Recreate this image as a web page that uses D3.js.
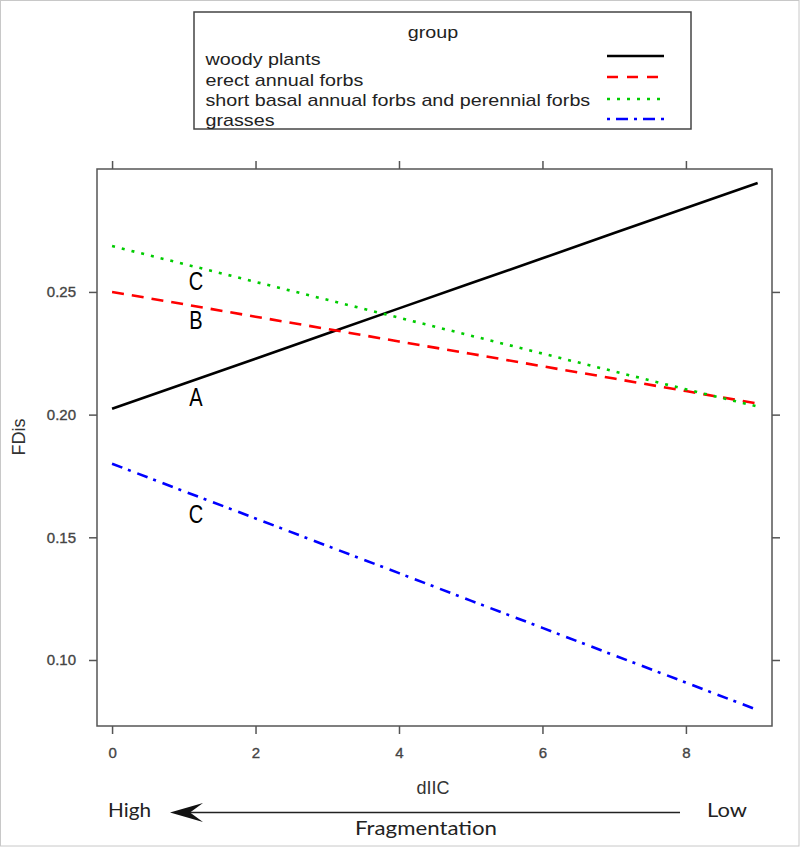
<!DOCTYPE html>
<html><head><meta charset="utf-8">
<script src="https://cdn.jsdelivr.net/npm/d3@7"></script>
<style>body{margin:0;background:#fff}svg{display:block}</style>
</head><body>
<script>
const xValues = [0,1,2,3,4,5,6,7,8,9];
const woody = [0.2024,0.2126,0.2228,0.2331,0.2433,0.2535,0.2637,0.2740,0.2842,0.2944];
const erect = [0.2500,0.2450,0.2399,0.2349,0.2298,0.2248,0.2197,0.2147,0.2096,0.2045];
const shortBasal = [0.2687,0.2614,0.2541,0.2468,0.2395,0.2322,0.2249,0.2176,0.2103,0.2033];
const grasses = [0.1800,0.1688,0.1577,0.1465,0.1354,0.1242,0.1131,0.1019,0.0908,0.0796];
const groupNames = ["woody plants","erect annual forbs","short basal annual forbs and perennial forbs","grasses"];
const groupColors = ["#000000","#ff0000","#00cc00","#0000ff"];
const groupDash = [null,"12,8","3,7","11,6,3,7"];
const legendDash = [null,"11,9","3,7","3,6,12,6"];
const xTicks = [0,2,4,6,8];
const yTicks = [0.10,0.15,0.20,0.25];
const letterLabels = [{t:"C",x:1.17,y:0.2545},{t:"B",x:1.17,y:0.2386},{t:"A",x:1.17,y:0.2072},{t:"C",x:1.17,y:0.1599}];

const W=800,H=847;
const svg=d3.select("body").append("svg").attr("width",W).attr("height",H);
svg.append("rect").attr("x",0.5).attr("y",0.5).attr("width",W-1.5).attr("height",H-1.5).attr("fill","#fff").attr("stroke","#c8c8c8");

const x=d3.scaleLinear().domain([-0.21,9.2]).range([97,772]);
const y=d3.scaleLinear().domain([0.0731,0.3001]).range([726,169]);
const axCol="#555";
const font="Liberation Sans, Arial, sans-serif";

const tl=(g)=>{g.select(".domain").remove();g.selectAll(".tick line").attr("stroke",axCol).attr("stroke-width",1.5);
  g.selectAll(".tick text").attr("fill","#444").attr("stroke","#444").attr("stroke-width",0.35).attr("font-size",15).attr("font-family",font);};
svg.append("g").attr("transform","translate(0,726)").call(d3.axisBottom(x).tickValues(xTicks).tickFormat(d3.format("d")).tickSize(8).tickPadding(13)).call(tl);
svg.append("g").attr("transform","translate(0,169)").call(d3.axisTop(x).tickValues(xTicks).tickFormat("").tickSize(8)).call(tl);
svg.append("g").attr("transform","translate(97,0)").call(d3.axisLeft(y).tickValues(yTicks).tickFormat(d3.format(".2f")).tickSize(8).tickPadding(13)).call(tl);
svg.append("g").attr("transform","translate(772,0)").call(d3.axisRight(y).tickValues(yTicks).tickFormat("").tickSize(8)).call(tl);
svg.append("rect").attr("x",97).attr("y",169).attr("width",675).attr("height",557).attr("fill","none").attr("stroke",axCol).attr("stroke-width",1.5);

const series=[woody,erect,shortBasal,grasses];
const line=d3.line().x((d,i)=>x(xValues[i])).y(d=>y(d));
series.forEach((s,i)=>{
  svg.append("path").attr("d",line(s)).attr("fill","none").attr("stroke",groupColors[i]).attr("stroke-width",2.6).attr("stroke-dasharray",groupDash[i]);
});

svg.selectAll(".lbl").data(letterLabels).enter().append("text")
  .attr("transform",d=>`translate(${x(d.x)},${y(d.y)+9.5}) scale(0.77,1)`)
  .attr("text-anchor","middle").attr("font-size",26).attr("font-family",font).attr("fill","#000").text(d=>d.t);

svg.append("text").attr("transform","translate(25,437) rotate(-90)").attr("text-anchor","middle").attr("font-size",18).attr("font-family",font).attr("fill","#333").text("FDis");
svg.append("text").attr("x",433).attr("y",794).attr("text-anchor","middle").attr("font-size",18).attr("font-family",font).attr("fill","#333").text("dIIC");

// legend
svg.append("rect").attr("x",194).attr("y",12).attr("width",497).attr("height",117).attr("fill","#fff").attr("stroke","#444").attr("stroke-width",1.5);
const sx=1.16;
svg.append("text").attr("transform",`translate(433,38) scale(${sx},1)`).attr("text-anchor","middle").attr("font-size",17).attr("font-family",font).attr("fill","#222").text("group");
const textBase=[65,85.5,106,126];
const lineY=[56,77,99,119];
groupNames.forEach((n,i)=>{
  svg.append("text").attr("transform",`translate(205.5,${textBase[i]}) scale(${sx},1)`).attr("font-size",17).attr("font-family",font).attr("fill","#222").text(n);
  svg.append("line").attr("x1",607).attr("x2",664).attr("y1",lineY[i]).attr("y2",lineY[i]).attr("stroke",groupColors[i]).attr("stroke-width",2.6).attr("stroke-dasharray",legendDash[i]);
});

const f2="Lato, Open Sans, sans-serif";
svg.append("text").attr("x",108).attr("y",817).attr("font-size",19).attr("font-family",f2).attr("fill","#222").attr("textLength",43).attr("lengthAdjust","spacingAndGlyphs").text("High");
svg.append("text").attr("x",707).attr("y",817).attr("font-size",19).attr("font-family",f2).attr("fill","#222").attr("textLength",40).attr("lengthAdjust","spacingAndGlyphs").text("Low");
svg.append("text").attr("x",355).attr("y",835).attr("font-size",19).attr("font-family",f2).attr("fill","#222").attr("textLength",142).attr("lengthAdjust","spacingAndGlyphs").text("Fragmentation");
svg.append("line").attr("x1",680).attr("x2",185).attr("y1",812.5).attr("y2",812.5).attr("stroke","#222").attr("stroke-width",1.5);
svg.append("path").attr("d","M170,812.5 L203,803 L190,812.5 L203,822 Z").attr("fill","#111");
</script>
</body></html>
